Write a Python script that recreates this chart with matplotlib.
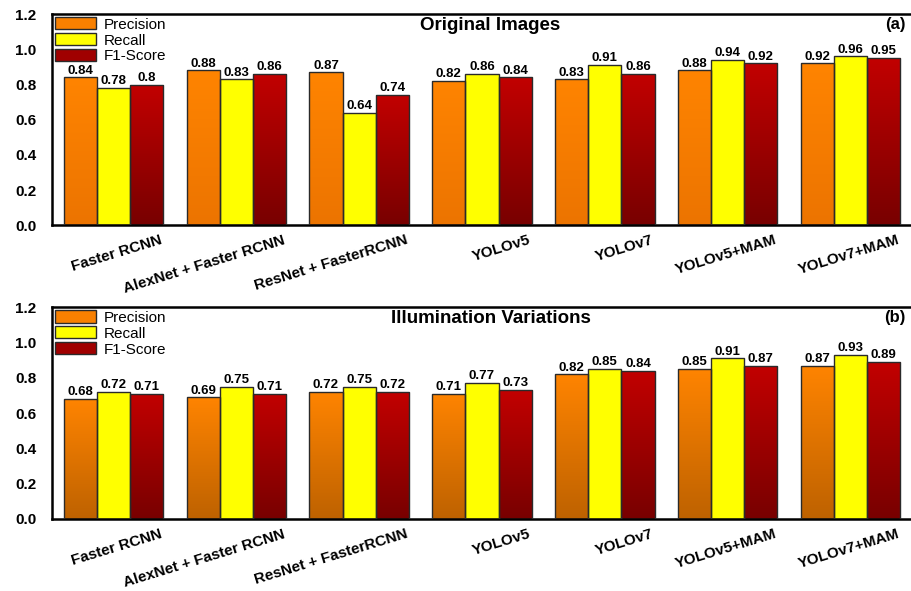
import numpy as np
import matplotlib
matplotlib.use("Agg")
import matplotlib.pyplot as plt
from matplotlib.colors import LinearSegmentedColormap
from matplotlib.patches import Patch
from matplotlib.transforms import ScaledTranslation

plt.rcParams['font.family'] = ['Liberation Sans', 'DejaVu Sans']

models = ["Faster RCNN", "AlexNet + Faster RCNN", "ResNet + FasterRCNN", "YOLOv5",
          "YOLOv7", "YOLOv5+MAM", "YOLOv7+MAM"]
metrics = ["Precision", "Recall", "F1-Score"]

orig_precision = [0.84, 0.88, 0.87, 0.82, 0.83, 0.88, 0.92]
orig_recall = [0.78, 0.83, 0.64, 0.86, 0.91, 0.94, 0.96]
orig_f1 = [0.80, 0.86, 0.74, 0.84, 0.86, 0.92, 0.95]

illum_precision = [0.68, 0.69, 0.72, 0.71, 0.82, 0.85, 0.87]
illum_recall = [0.72, 0.75, 0.75, 0.77, 0.85, 0.91, 0.93]
illum_f1 = [0.71, 0.71, 0.72, 0.73, 0.84, 0.87, 0.89]

yticks = [0.0, 0.2, 0.4, 0.6, 0.8, 1.0, 1.2]

# (top colour, bottom colour) of the gradient for each metric, per panel
grads_a = [("#FF8400", "#EC7400"), ("#FFFF00", "#FFFF00"), ("#C20000", "#780000")]
grads_b = [("#FF8400", "#BE6200"), ("#FFFF00", "#FFFF00"), ("#C20000", "#780000")]
legend_colors = ["#F98000", "#FFFF00", "#A00000"]


def grad_bar(ax, x, h, w, c_top, c_bot):
    cmap = LinearSegmentedColormap.from_list("g", [c_top, c_bot])
    bar = ax.bar(x, h, w, facecolor="none", edgecolor="#2a2a2a", linewidth=1.0, zorder=3)[0]
    im = ax.imshow(np.linspace(0, 1, 256).reshape(-1, 1), cmap=cmap, origin="upper",
                   extent=(x - w / 2, x + w / 2, 0, h), aspect="auto", zorder=2)
    im.set_clip_path(bar)


def draw_panel(ax, series, grads, title, tag):
    x = np.arange(len(models))
    w = 0.27
    for i, vals in enumerate(series):
        for xi, v in zip(x + (i - 1) * w, vals):
            grad_bar(ax, xi, v, w, *grads[i])
            ax.text(xi, v + 0.004, f"{v:g}", ha="center", va="bottom",
                    fontsize=9.5, fontweight="bold", zorder=4)
    ax.set_xlim(-0.5, len(models) - 0.5)
    ax.set_ylim(0, 1.2)
    ax.set_yticks(yticks)
    ax.set_yticklabels([f"{t:.1f}" for t in yticks], fontsize=11, fontweight="bold")
    ax.set_xticks(x)
    ax.set_xticklabels([])
    # rotated model names, right end shifted past the group centre
    shift = ax.get_xaxis_transform() + ScaledTranslation(0.46, -0.08, ax.figure.dpi_scale_trans)
    for xi, name in zip(x, models):
        ax.text(xi, 0, name, transform=shift, rotation=17, ha="right", va="top",
                rotation_mode="anchor", fontsize=11, fontweight="bold")
    ax.tick_params(axis="both", length=0)
    ax.tick_params(axis="y", pad=11)
    for sp in ax.spines.values():
        sp.set_linewidth(1.8)
        sp.set_color("black")
    ax.text(0.51, 0.985, title, transform=ax.transAxes, ha="center", va="top",
            fontsize=13.5, fontweight="bold")
    ax.text(0.993, 0.985, tag, transform=ax.transAxes, ha="right", va="top",
            fontsize=12, fontweight="bold")
    handles = [Patch(facecolor=c, edgecolor="#2a2a2a", linewidth=1.0) for c in legend_colors]
    ax.legend(handles, metrics, loc="upper left", frameon=False, fontsize=11,
              handlelength=2.7, handleheight=0.85, labelspacing=0.1,
              handletextpad=0.5, borderaxespad=0.05, borderpad=0.15)


fig = plt.figure(figsize=(9.12, 5.91), dpi=100)
ax1 = fig.add_axes([0.057, 0.619, 0.943, 0.357])
ax2 = fig.add_axes([0.057, 0.122, 0.943, 0.358])

draw_panel(ax1, [orig_precision, orig_recall, orig_f1], grads_a, "Original Images", "(a)")
draw_panel(ax2, [illum_precision, illum_recall, illum_f1], grads_b, "Illumination Variations", "(b)")

fig.savefig("out.png", dpi=100)
